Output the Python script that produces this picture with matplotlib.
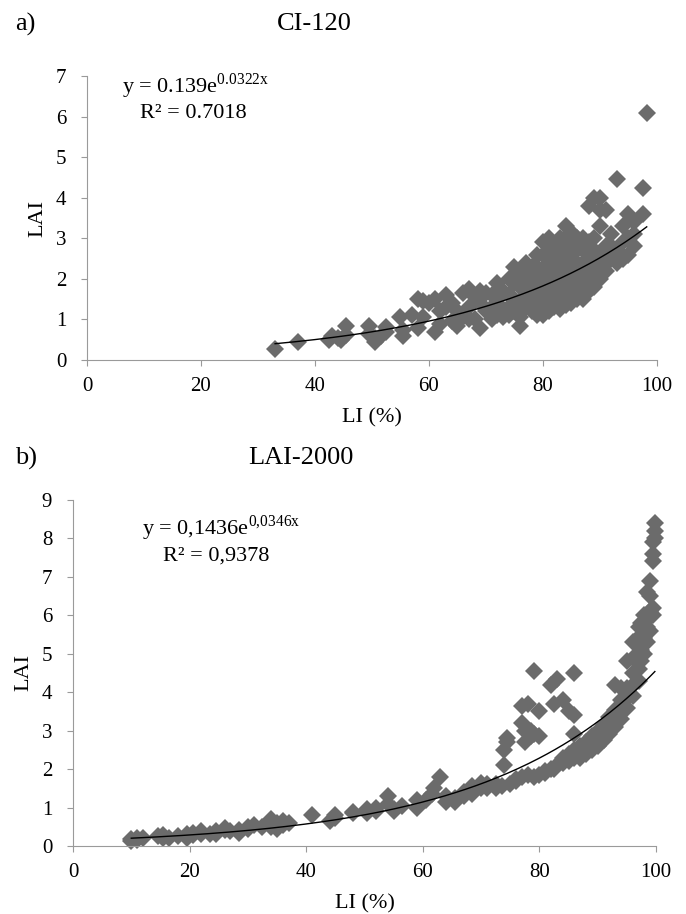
import numpy as np
import matplotlib.pyplot as plt

plt.rcParams['font.family'] = ['Liberation Serif', 'DejaVu Serif']
plt.rcParams['mathtext.fontset'] = 'custom'
plt.rcParams['mathtext.rm'] = 'Liberation Serif'

# a) CI-120  (LI %, LAI)
li_a = [33, 37, 42.5, 43, 44, 44.5, 45.5, 45.5, 49.5, 49.5,
        50.5, 50.5, 51.5, 52.5, 52.5, 55, 55.5, 55.5, 57, 58,
        58, 59, 59, 60, 61, 61, 62, 62, 63, 63,
        64, 64, 65, 65, 66, 66, 67, 67, 67, 68,
        68, 69, 69, 69, 70, 70, 71, 71, 71, 72,
        72, 72, 73, 73, 73, 74, 74, 74, 74, 75,
        75, 75, 75, 76, 76, 76, 76, 76, 77, 77,
        77, 77, 77, 78, 78, 78, 78, 78, 79, 79,
        79, 79, 79, 79, 80, 80, 80, 80, 80, 80,
        80, 81, 81, 81, 81, 81, 81, 81, 82, 82,
        82, 82, 82, 82, 83, 83, 83, 83, 83, 83,
        83, 84, 84, 84, 84, 84, 84, 84, 85, 85,
        85, 85, 85, 85, 85, 86, 86, 86, 86, 86,
        86, 87, 87, 87, 87, 87, 87, 88, 88, 88,
        88, 88, 88, 89, 89, 89, 89, 89, 89, 90,
        90, 90, 90, 90, 90, 91, 91, 91, 91, 92,
        92, 92, 93, 93, 93, 94, 94, 94, 95, 95,
        95, 96, 96, 96, 97.5, 97.5, 98.2]
lai_a = [0.28, 0.45, 0.5, 0.6, 0.55, 0.5, 0.62, 0.85, 0.85, 0.65,
         0.45, 0.55, 0.6, 0.82, 0.7, 1.05, 0.6, 0.75, 1.1, 0.8,
         1.5, 1.05, 1.45, 1.4, 0.7, 1.5, 1.2, 0.9, 1.6, 1.3,
         1.4, 0.95, 1.2, 0.85, 1.65, 1.05, 1.75, 1.3, 1.0, 1.55,
         1.0, 0.8, 1.4, 1.7, 1.65, 1.2, 1.0, 1.3, 1.6, 1.9,
         1.5, 1.1, 1.7, 1.25, 1.05, 2.0, 1.6, 1.3, 1.1, 2.3,
         1.9, 1.5, 1.2, 0.85, 1.05, 1.4, 1.8, 2.1, 1.3, 1.6,
         1.9, 2.2, 2.4, 1.2, 1.45, 1.75, 2.0, 2.3, 1.1, 1.4,
         1.7, 2.0, 2.3, 2.6, 1.1, 1.35, 1.65, 1.95, 2.25, 2.6,
         2.9, 1.2, 1.5, 1.8, 2.1, 2.4, 2.7, 3.0, 1.3, 1.6,
         1.9, 2.2, 2.5, 2.8, 1.25, 1.5, 1.8, 2.1, 2.4, 2.7,
         3.0, 1.35, 1.65, 1.95, 2.25, 2.55, 2.85, 3.3, 1.4, 1.7,
         2.0, 2.3, 2.6, 2.8, 3.15, 1.5, 1.8, 2.1, 2.4, 2.7,
         3.0, 1.5, 1.8, 2.1, 2.4, 2.7, 3.0, 1.7, 2.0, 2.3,
         2.6, 2.9, 3.8, 1.8, 2.1, 2.4, 2.7, 3.0, 4.0, 2.0,
         2.3, 2.6, 3.3, 3.7, 4.0, 2.2, 2.5, 2.8, 3.7, 2.5,
         2.8, 3.1, 2.4, 2.7, 4.45, 2.5, 2.9, 3.3, 2.6, 3.0,
         3.6, 2.8, 3.1, 3.4, 3.6, 4.25, 6.1]

# b) LAI-2000
li_b = [10, 10, 11, 11, 12, 14.5, 15.5, 15.5, 16.5, 18,
        19.5, 19.5, 20.5, 20.5, 22, 22, 23.5, 24.5, 24.5, 26,
        26, 27, 28.5, 28.5, 30, 30, 31, 32.5, 34, 34,
        35, 35, 36, 36, 37, 41, 44, 45, 45, 48,
        48, 50.5, 50.5, 52, 52, 54, 54, 55, 55, 56.5,
        59, 59, 60.5, 61.5, 62, 63, 64, 64, 65.5, 65.5,
        67, 67, 68.5, 68.5, 70, 70, 71, 71, 72.5, 72.5,
        73.5, 74, 74, 74.5, 74.5, 75, 76, 76, 77, 77,
        77, 77.5, 77.5, 78, 78, 78.5, 78.5, 79, 79, 79,
        80, 80, 80, 81, 81, 82, 82, 82.5, 82.5, 83,
        83, 84, 84, 84, 85, 85, 85, 86, 86, 86,
        86, 86, 87, 87, 87, 88, 88, 88, 89, 89,
        89, 90, 90, 90, 91, 91, 91, 92, 92, 92,
        93, 93, 93, 93, 94, 94, 94, 94, 95, 95,
        95, 95, 96, 96, 96, 96, 96, 97, 97, 97,
        97, 97, 97.5, 97.5, 97.5, 97.5, 98, 98, 98, 98,
        98.5, 98.5, 98.5, 99, 99, 99, 99, 99.5, 99.5, 99.5,
        99.5, 99.5, 99.8, 99.8, 99.8]
lai_b = [0.12, 0.17, 0.2, 0.15, 0.22, 0.25, 0.2, 0.28, 0.22, 0.25,
         0.22, 0.3, 0.35, 0.28, 0.3, 0.38, 0.32, 0.38, 0.3, 0.42,
         0.48, 0.38, 0.42, 0.35, 0.5, 0.45, 0.55, 0.5, 0.7, 0.5,
         0.6, 0.45, 0.65, 0.55, 0.6, 0.8, 0.65, 0.8, 0.72, 0.88,
         0.85, 0.95, 0.85, 1.0, 0.9, 1.3, 1.1, 0.95, 0.9, 1.05,
         1.0, 1.2, 1.2, 1.35, 1.5, 1.8, 1.15, 1.3, 1.15, 1.25,
         1.4, 1.3, 1.35, 1.55, 1.65, 1.5, 1.5, 1.6, 1.5, 1.6,
         1.55, 2.1, 2.5, 2.8, 2.7, 1.6, 1.7, 1.75, 3.2, 3.65,
         1.8, 2.7, 3.0, 1.85, 3.7, 3.0, 2.85, 4.55, 1.8, 2.9,
         3.5, 2.85, 1.85, 1.9, 1.95, 4.2, 2.0, 3.7, 2.0, 4.35,
         2.1, 3.8, 2.15, 2.3, 3.5, 2.2, 2.4, 4.5, 3.4, 2.9,
         2.3, 2.5, 2.3, 2.45, 2.6, 2.4, 2.55, 2.7, 2.5, 2.65,
         2.85, 2.6, 2.8, 3.0, 2.75, 2.95, 3.15, 2.9, 3.1, 3.35,
         3.1, 3.3, 3.55, 4.2, 3.3, 3.55, 3.8, 4.1, 3.6, 3.85,
         4.1, 4.8, 3.9, 4.2, 4.5, 5.3, 4.9, 4.3, 4.6, 4.9,
         5.2, 5.7, 4.8, 5.1, 5.5, 5.8, 5.0, 5.4, 5.8, 6.0,
         5.3, 5.7, 6.6, 5.6, 6.1, 6.9, 6.5, 6.0, 6.2, 7.4,
         7.6, 7.9, 8.0, 8.2, 8.4]

x_ticks = [0, 20, 40, 60, 80, 100]

# trendline coefficients as printed on the chart
fit_a = (0.139, 0.0322)
fit_b = (0.1436, 0.0346)

gray = '#6b6b6b'
spine = '#9a9a9a'

fig = plt.figure(figsize=(6.86, 9.14), dpi=100)


def panel(ax, li, lai, fit, ymax):
    ax.plot(li, lai, 'D', color=gray, ms=9, mec=gray, mew=0, clip_on=False)
    xs = np.linspace(min(li), max(li), 200)
    ax.plot(xs, fit[0] * np.exp(fit[1] * xs), color='black', lw=1)
    ax.set_xlim(0, 100)
    ax.set_ylim(0, ymax)
    ax.set_xticks(x_ticks)
    ax.set_yticks(range(ymax + 1))
    for s in ['top', 'right']:
        ax.spines[s].set_visible(False)
    for s in ['left', 'bottom']:
        ax.spines[s].set_color(spine)
    ax.tick_params(axis='x', direction='out', length=4, color=spine, labelsize=15, pad=8)
    ax.tick_params(axis='y', direction='out', length=4, color=spine, labelsize=15, pad=11)
    ax.set_xlabel('LI (%)', fontsize=16, labelpad=9)
    ax.set_ylabel('LAI', fontsize=16, labelpad=6)


ax1 = fig.add_axes([0.1268, 0.6061, 0.8309, 0.3107])
panel(ax1, li_a, lai_a, fit_a, 7)
ax1.text(122 / 686, 1 - 86 / 914, r'y = 0.139e$^{\mathregular{0.0322x}}$',
         transform=fig.transFigure, fontsize=16, va='center')
ax1.text(140 / 686, 1 - 113 / 914, 'R² = 0.7018',
         transform=fig.transFigure, fontsize=16, va='center')
fig.text(15 / 686, 1 - 24 / 914, 'a)', fontsize=19, va='center')
fig.text(314 / 686, 1 - 24 / 914, 'CI-120', fontsize=19, va='center', ha='center')

ax2 = fig.add_axes([0.1064, 0.0744, 0.8499, 0.3786])
panel(ax2, li_b, lai_b, fit_b, 9)
ax2.text(142 / 686, 1 - 528 / 914, r'y = 0,1436e$^{\mathregular{0{,}0346x}}$',
         transform=fig.transFigure, fontsize=16, va='center')
ax2.text(163 / 686, 1 - 556 / 914, 'R² = 0,9378',
         transform=fig.transFigure, fontsize=16, va='center')
fig.text(15 / 686, 1 - 458 / 914, 'b)', fontsize=19, va='center')
fig.text(301 / 686, 1 - 458 / 914, 'LAI-2000', fontsize=19, va='center', ha='center')

fig.savefig('out.png', dpi=100)
